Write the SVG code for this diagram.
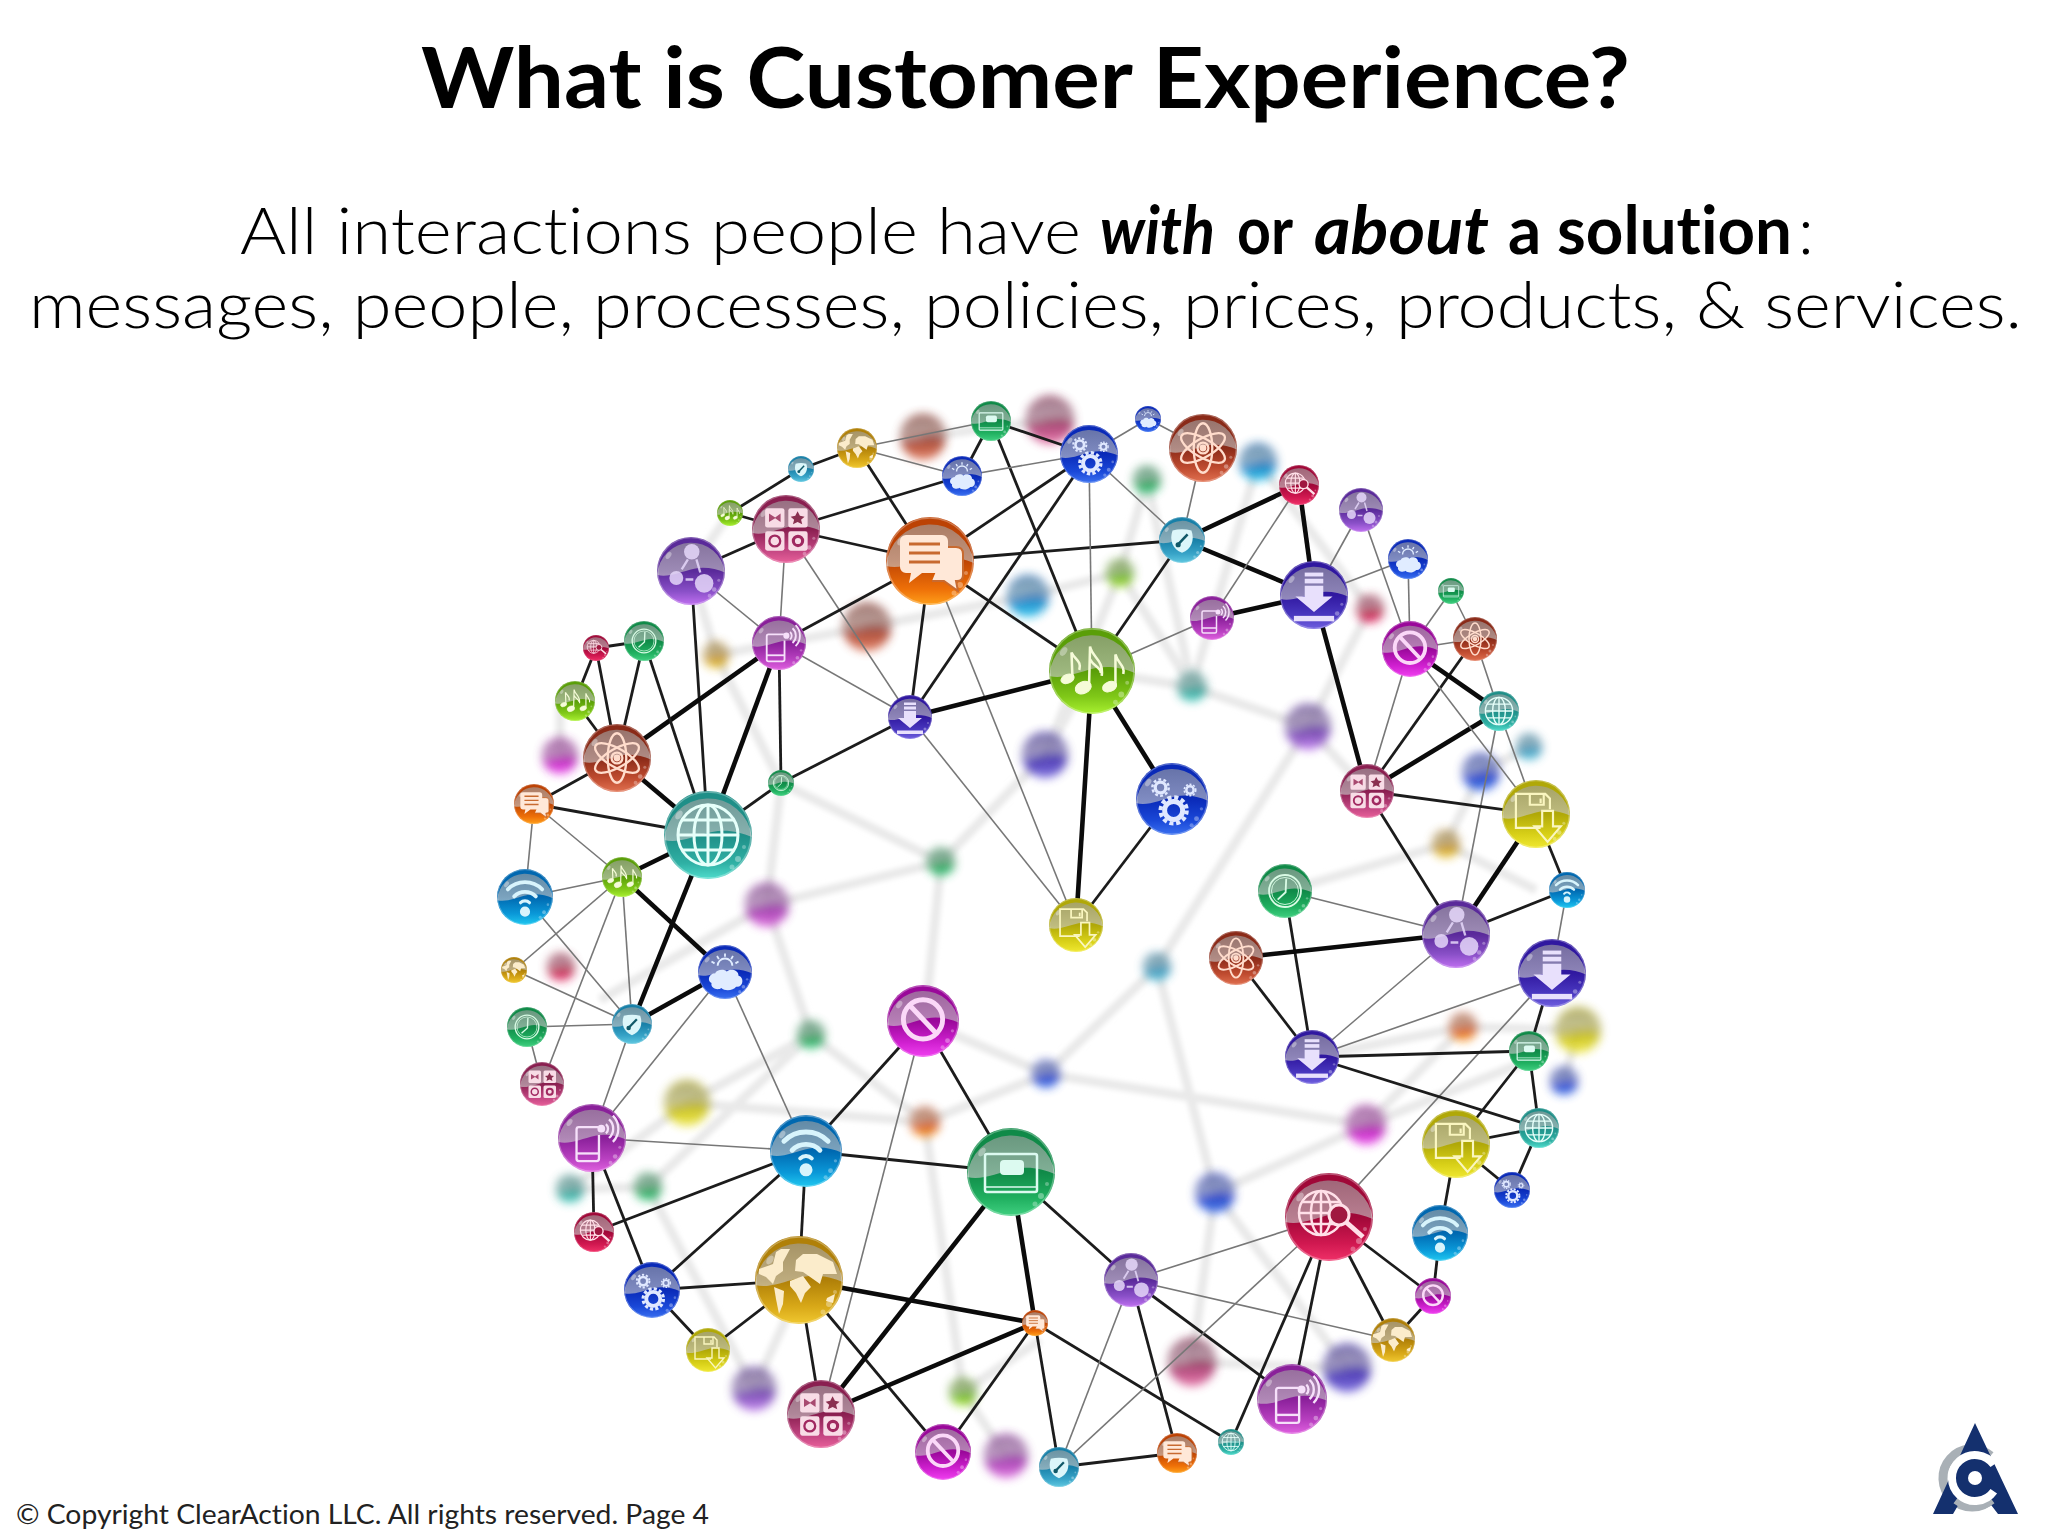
<svg xmlns="http://www.w3.org/2000/svg" width="2048" height="1536" viewBox="0 0 2048 1536">
<style>
text{font-variant-ligatures:none}
.ttl{font-family:"Lato","Liberation Sans",sans-serif;font-weight:700;font-size:84px;fill:#000}
.sub{font-family:"Lato","Liberation Sans",sans-serif;font-weight:300;font-size:66px;fill:#000}
.em{font-weight:700}
.it{font-style:italic}
.foot{font-family:"Lato","Liberation Sans",sans-serif;font-size:26px;fill:#222}
.t{stroke:#777;stroke-width:1.6}
.m{stroke:#1c1c1c;stroke-width:2.8}
.k{stroke:#0b0b0b;stroke-width:4.6}
.gh{stroke:#e9e9e9;stroke-width:9;fill:none}
.rim{fill:none;stroke:#fff;stroke-opacity:.3;stroke-width:1.5}
</style>
<defs>
<filter id="bl" x="-20%" y="-20%" width="140%" height="140%"><feGaussianBlur stdDeviation="5"/></filter>
<filter id="bl2" x="-5%" y="-5%" width="110%" height="110%"><feGaussianBlur stdDeviation="2.5"/></filter>
<linearGradient id="capg" gradientUnits="userSpaceOnUse" x1="0" y1="-44" x2="0" y2="6"><stop offset="0" stop-color="#999" stop-opacity=".62"/><stop offset="1" stop-color="#ccc" stop-opacity=".62"/></linearGradient>
<linearGradient id="teal" x1="0" y1="0" x2="0" y2="1"><stop offset=".5" stop-color="#1f8f88"/><stop offset=".82" stop-color="#2fb0a4"/><stop offset="1" stop-color="#4fdccc"/></linearGradient>
<linearGradient id="orange" x1="0" y1="0" x2="0" y2="1"><stop offset=".48" stop-color="#bc4204"/><stop offset=".82" stop-color="#ee7008"/><stop offset="1" stop-color="#ffa01a"/></linearGradient>
<linearGradient id="purple" x1="0" y1="0" x2="0" y2="1"><stop offset=".5" stop-color="#5a2a9a"/><stop offset=".8" stop-color="#8a50c8"/><stop offset="1" stop-color="#c070f0"/></linearGradient>
<linearGradient id="pink" x1="0" y1="0" x2="0" y2="1"><stop offset=".5" stop-color="#8a1f50"/><stop offset=".8" stop-color="#c04480"/><stop offset="1" stop-color="#e8609a"/></linearGradient>
<linearGradient id="magenta" x1="0" y1="0" x2="0" y2="1"><stop offset=".5" stop-color="#9a089a"/><stop offset=".8" stop-color="#d020d0"/><stop offset="1" stop-color="#f040f0"/></linearGradient>
<linearGradient id="emerald" x1="0" y1="0" x2="0" y2="1"><stop offset=".5" stop-color="#108a48"/><stop offset=".8" stop-color="#20b060"/><stop offset="1" stop-color="#40d080"/></linearGradient>
<linearGradient id="lime" x1="0" y1="0" x2="0" y2="1"><stop offset=".5" stop-color="#5a9e08"/><stop offset=".8" stop-color="#80c818"/><stop offset="1" stop-color="#a8f030"/></linearGradient>
<linearGradient id="red" x1="0" y1="0" x2="0" y2="1"><stop offset=".5" stop-color="#8a2a18"/><stop offset=".8" stop-color="#c04c30"/><stop offset="1" stop-color="#e07050"/></linearGradient>
<linearGradient id="blue" x1="0" y1="0" x2="0" y2="1"><stop offset=".5" stop-color="#0a2ab8"/><stop offset=".8" stop-color="#1a48d8"/><stop offset="1" stop-color="#3a70f0"/></linearGradient>
<linearGradient id="cyan" x1="0" y1="0" x2="0" y2="1"><stop offset=".5" stop-color="#0068b0"/><stop offset=".8" stop-color="#0a98d8"/><stop offset="1" stop-color="#20c8f0"/></linearGradient>
<linearGradient id="steel" x1="0" y1="0" x2="0" y2="1"><stop offset=".5" stop-color="#1880a8"/><stop offset=".8" stop-color="#38a4c8"/><stop offset="1" stop-color="#60c8e0"/></linearGradient>
<linearGradient id="gold" x1="0" y1="0" x2="0" y2="1"><stop offset=".5" stop-color="#b08008"/><stop offset=".8" stop-color="#d8a818"/><stop offset="1" stop-color="#f0c830"/></linearGradient>
<linearGradient id="yellow" x1="0" y1="0" x2="0" y2="1"><stop offset=".5" stop-color="#b0a808"/><stop offset=".8" stop-color="#d8d018"/><stop offset="1" stop-color="#f0e830"/></linearGradient>
<linearGradient id="crimson" x1="0" y1="0" x2="0" y2="1"><stop offset=".5" stop-color="#a00838"/><stop offset=".8" stop-color="#d01850"/><stop offset="1" stop-color="#f03068"/></linearGradient>
<linearGradient id="indigo" x1="0" y1="0" x2="0" y2="1"><stop offset=".5" stop-color="#3018a0"/><stop offset=".8" stop-color="#4a38c0"/><stop offset="1" stop-color="#7060e0"/></linearGradient>
<linearGradient id="plum" x1="0" y1="0" x2="0" y2="1"><stop offset=".5" stop-color="#8a209a"/><stop offset=".8" stop-color="#b840c0"/><stop offset="1" stop-color="#e060e0"/></linearGradient>

<path id="cap" d="M-43.700 5C-30 9-14 1 4-3 18-6 32-3 43.900 2A44 44 0 0 0-43.700 5z" fill="url(#capg)"/>
<g id="gloss"><use href="#cap"/><circle class="rim" r="43"/><ellipse cx="-29" cy="-20" rx="3" ry="5" fill="#fff" opacity=".35" transform="rotate(35 -29 -20)"/><circle cx="30" cy="24" r="3" fill="#fff" opacity=".35"/><circle cx="24" cy="32" r="2.500" fill="#fff" opacity=".3"/><circle cx="36" cy="12" r="2" fill="#fff" opacity=".3"/></g>

<g id="i-globe" fill="none" stroke="#e6fffa" stroke-width="3"><circle r="30"/><ellipse rx="14" ry="30"/><path d="M-30 0H30M-26-15H26M-26 15H26M0-30V30"/></g>
<g id="i-chat"><path d="M16-14H26c5 0 7 3 7 7V14c0 4-2 6-6 6h-1l2 10-14-10H2" fill="#ffe8d8" stroke="#c86a30" stroke-width="2"/><path d="M-24-26H12a6 6 0 0 1 6 6V6a6 6 0 0 1-6 6H-8l-13 10 2-10h-5a6 6 0 0 1-6-6V-20a6 6 0 0 1 6-6z" fill="#ffe8d8"/><path d="M-21-17H10M-21-8H10M-21 1H10" stroke="#c86a30" stroke-width="3"/></g>
<g id="i-share" fill="#e6d8fa" opacity=".85"><circle cx="1" cy="-25" r="10"/><circle cx="-19" cy="9" r="9"/><circle cx="17" cy="16" r="12"/><path d="M-4-15-12-2M7-15 12 2M-7 11H3" stroke="#e6d8fa" stroke-width="3" fill="none"/></g>
<g id="i-apps"><rect x="-27" y="-27" width="25" height="25" rx="3" fill="#f8dce6"/><rect x="3" y="-27" width="25" height="25" rx="3" fill="#f8dce6"/><rect x="-27" y="3" width="25" height="25" rx="3" fill="#f8dce6"/><rect x="3" y="3" width="25" height="25" rx="3" fill="#f8dce6"/><path d="M-22-20-14-15-7-20V-9L-14-14-22-9z" fill="#a84a70"/><path d="M15-23 18-17 24-16 19.500-12 21-6 15-9 9-6 10.500-12 6-16 12-17z" fill="#8a3050"/><circle cx="-14.500" cy="15.500" r="7" fill="none" stroke="#a02860" stroke-width="3"/><circle cx="15.500" cy="15.500" r="6" fill="none" stroke="#a02860" stroke-width="4"/></g>
<g id="i-phone" fill="none" stroke="#f6e0fa" stroke-width="3"><path d="M8-14H-17a3 3 0 0 0-3 3v38a3 3 0 0 0 3 3H6a3 3 0 0 0 3-3V-4"/><path d="M-20 20H9"/><circle cx="12" cy="-12" r="3.500" fill="#f6e0fa"/><path d="M18-18a8 8 0 0 1 0 12M22-24a16 16 0 0 1 0 24M27-29a24 24 0 0 1 0 34"/></g>
<g id="i-atom" fill="none" stroke="#ffdccc" stroke-width="3"><ellipse rx="12" ry="32"/><ellipse rx="12" ry="32" transform="rotate(60)"/><ellipse rx="12" ry="32" transform="rotate(120)"/><circle r="7"/><circle r="3" fill="#ffdccc"/></g>
<g id="i-music" fill="#f5fbd8" stroke="#f5fbd8"><ellipse cx="-25" cy="8" rx="7" ry="4.500" transform="rotate(-22 -25 8)"/><ellipse cx="-9" cy="17" rx="8.500" ry="6" transform="rotate(-22 -9 17)"/><ellipse cx="18" cy="16" rx="7.500" ry="5" transform="rotate(-22 18 16)"/><path d="M-20 7-21-19C-18-12-10-10-13-1M-3 15-2-25C0-14 12-12 10 5M-2-12C2-4 9-4 9 2M24 14 24-17C26-8 34-6 32 3" fill="none" stroke-width="2.600"/></g>
<g id="i-gears" fill="none" stroke="#e0e8ff"><circle cx="2" cy="14" r="11" stroke-width="6"/><circle cx="2" cy="14" r="16" stroke-width="5" stroke-dasharray="5 3.400"/><circle cx="-14" cy="-14" r="6.500" stroke-width="4"/><circle cx="-14" cy="-14" r="10" stroke-width="3" stroke-dasharray="3.500 2.800"/><circle cx="22" cy="-11" r="4.500" stroke-width="3"/><circle cx="22" cy="-11" r="7" stroke-width="2" stroke-dasharray="2.500 2"/></g>
<g id="i-down" fill="#e8e0fc"><rect x="-12" y="-29" width="24" height="5"/><rect x="-12" y="-21" width="24" height="6"/><path d="M-12-12H12V2H24L0 22-24 2H-12z"/><rect x="-26" y="27" width="52" height="7"/></g>
<g id="i-block" fill="none" stroke="#fbd8f8" stroke-width="6"><circle cy="-2" r="24"/><path d="M-16-19 16 15"/></g>
<g id="i-wifi" fill="none" stroke="#d8f4fc" stroke-width="6" stroke-linecap="round"><path d="M-27-12A38 38 0 0 1 27-12"/><path d="M-17-1A24 24 0 0 1 17-1"/><path d="M-7 9A10 10 0 0 1 7 9" stroke-width="5"/><circle cy="23" r="5" fill="#d8f4fc"/></g>
<g id="i-cloud"><path d="M-16 2C-26 2-30 14-22 18-24 28-10 30-6 26 0 32 14 30 18 24 30 26 32 8 22 6 22-4 8-6 3-1-2-6-14-4-16 2z" fill="#e0ecff"/><path d="M-12-10A12 12 0 0 1 12-10" fill="none" stroke="#e0ecff" stroke-width="3"/><path d="M0-30V-25M-13-26-10-21M13-26 10-21M-22-17-17-14M22-17 17-14" stroke="#e0ecff" stroke-width="3"/></g>
<g id="i-gauge" transform="scale(.82)"><path d="M-22-22C-8-26 8-26 22-22 30 0 22 22 0 30-22 22-30 0-22-22z" fill="#dcf6fa"/><path d="M-9 10 13-13" stroke="#105868" stroke-width="6"/><circle cx="-9" cy="11" r="6" fill="#105868"/></g>
<g id="i-world" fill="#fbeccb"><path d="M-40-11-26-16-23-28-18-31-9-31-16-18-16-9-23-4-26 4-33-3-40-6z"/><path d="M-25 7-15 11-16 24-20 34-23 19z"/><path d="M-3-20 4-26 18-26 34-18 38-6 24-6 21 4 14-1 4-8-4-9z"/><path d="M-9 1 4-4 12 7 6 13 2 23-3 13-9 6z"/><path d="M28 18 36 14 34 23 27 21z"/></g>
<g id="i-clock" fill="none" stroke="#d8fae4" stroke-width="3"><circle r="26"/><circle r="22" stroke-width="1.500"/><path d="M2-20 1 2-12 14"/></g>
<g id="i-laptop"><rect x="-26" y="-18" width="52" height="38" rx="2" fill="none" stroke="#dcfaf0" stroke-width="2.500"/><path d="M-26 15H26" stroke="#dcfaf0" stroke-width="1.500"/><rect x="-11" y="-12" width="24" height="15" rx="4" fill="#dcfaf0"/></g>
<g id="i-floppy" fill="none" stroke="#faf6c0" stroke-width="2.800"><path d="M6 18H-26V-26H12L18-20V-6"/><path d="M-8-26V-12H10V-26"/><path d="M6-14V-20"/><path d="M8-4H22V16H32L15 36-2 16H8z"/></g>
<g id="i-search"><g fill="none" stroke="#ffe0e8" stroke-width="2.500"><circle cx="-8" cy="-4" r="22"/><ellipse cx="-8" cy="-4" rx="10" ry="22"/><path d="M-30-4H14M-26-15H10M-26 7H10M-8-26V18"/></g><circle cx="10" cy="-2" r="10" fill="#a01840" stroke="#ffe0e8" stroke-width="3"/><path d="M17 5 34 20" stroke="#ffe0e8" stroke-width="5"/></g>
</defs>

<rect width="2048" height="1536" fill="#fff"/>

<text class="ttl" x="421" y="108" textLength="1209" lengthAdjust="spacingAndGlyphs">What is Customer Experience?</text>
<text class="sub" x="240" y="254" textLength="841" lengthAdjust="spacingAndGlyphs">All interactions people have</text>
<text class="sub em it" x="1100" y="254" textLength="115" lengthAdjust="spacingAndGlyphs">with</text>
<text class="sub em" x="1237" y="254" textLength="56" lengthAdjust="spacingAndGlyphs">or</text>
<text class="sub em it" x="1314" y="254" textLength="175" lengthAdjust="spacingAndGlyphs">about</text>
<text class="sub em" x="1508" y="254" textLength="284" lengthAdjust="spacingAndGlyphs">a solution</text>
<text class="sub" x="1798" y="254">:</text>
<text class="sub" x="29" y="328" textLength="1993" lengthAdjust="spacingAndGlyphs">messages, people, processes, policies, prices, products, &amp; services.</text>
<text class="foot" x="16" y="1524" textLength="693" lengthAdjust="spacingAndGlyphs">© Copyright ClearAction LLC. All rights reserved. Page 4</text>

<g id="background-network">
<g filter="url(#bl2)" class="gh">
<path d="M941 862 767 905M941 862 781 783M941 862 1045 755M941 862 927 1000 923 1021M1157 967 1308 727M1157 967 1046 1074M1157 967 1215 1193M1046 1074 1366 1125M1366 1125 1215 1193M1366 1125 1530 1060M1215 1193 1192 1362M1215 1193 1347 1368M1192 1362 1347 1368M811 1035 767 905M811 1035 687 1103M811 1035 925 1122M923 1021 1046 1074M1046 1074 925 1122M687 1103 925 1122M648 1187 811 1035M925 1122 963 1392M648 1187 754 1389M754 1389 790 1310M963 1392 1006 1456M963 1392 1040 1340M1192 687 1308 727M1192 687 1092 671M1308 727 1370 609M1308 727 1367 791M1446 844 1285 891M1446 844 1481 772M1481 772 1529 747M1536 890 1446 844M716 655 781 783M716 655 691 571M781 783 767 905M730 513 690 570M767 905 600 1000M560 756 560 700M570 1189 648 1187M687 1103 570 1189M1147 480 1192 687M1120 573 1028 596M1028 596 867 627M867 627 716 655M1147 480 1120 573M1258 462 1192 687M1192 687 1120 573M1045 755 1120 573M1045 755 1092 671M923 437 1050 420M1463 1027 1366 1125M1463 1027 1312 1057M1578 1030 1463 1027M1564 1081 1578 1030M1370 609 1258 462"/>
</g>
<g filter="url(#bl)" opacity=".85">
<g transform="translate(923 437) scale(.52)"><circle r="44" fill="url(#red)"/><use href="#cap"/></g>
<g transform="translate(1050 420) scale(.55)"><circle r="44" fill="url(#pink)"/><use href="#cap"/></g>
<g transform="translate(867 627) scale(.55)"><circle r="44" fill="url(#red)"/><use href="#cap"/></g>
<g transform="translate(1028 596) scale(.48)"><circle r="44" fill="url(#cyan)"/><use href="#cap"/></g>
<g transform="translate(716 655) scale(.3)"><circle r="44" fill="url(#gold)"/><use href="#cap"/></g>
<g transform="translate(560 756) scale(.41)"><circle r="44" fill="url(#magenta)"/><use href="#cap"/></g>
<g transform="translate(941 862) scale(.32)"><circle r="44" fill="url(#emerald)"/><use href="#cap"/></g>
<g transform="translate(767 905) scale(.5)"><circle r="44" fill="url(#plum)"/><use href="#cap"/></g>
<g transform="translate(1045 755) scale(.52)"><circle r="44" fill="url(#indigo)"/><use href="#cap"/></g>
<g transform="translate(1147 480) scale(.32)"><circle r="44" fill="url(#emerald)"/><use href="#cap"/></g>
<g transform="translate(1120 573) scale(.32)"><circle r="44" fill="url(#lime)"/><use href="#cap"/></g>
<g transform="translate(1258 462) scale(.43)"><circle r="44" fill="url(#cyan)"/><use href="#cap"/></g>
<g transform="translate(1370 609) scale(.32)"><circle r="44" fill="url(#crimson)"/><use href="#cap"/></g>
<g transform="translate(1192 687) scale(.34)"><circle r="44" fill="url(#teal)"/><use href="#cap"/></g>
<g transform="translate(1308 727) scale(.52)"><circle r="44" fill="url(#purple)"/><use href="#cap"/></g>
<g transform="translate(1529 747) scale(.3)"><circle r="44" fill="url(#steel)"/><use href="#cap"/></g>
<g transform="translate(1481 772) scale(.43)"><circle r="44" fill="url(#blue)"/><use href="#cap"/></g>
<g transform="translate(1446 844) scale(.32)"><circle r="44" fill="url(#gold)"/><use href="#cap"/></g>
<g transform="translate(1157 967) scale(.32)"><circle r="44" fill="url(#steel)"/><use href="#cap"/></g>
<g transform="translate(561 967) scale(.32)"><circle r="44" fill="url(#crimson)"/><use href="#cap"/></g>
<g transform="translate(687 1103) scale(.52)"><circle r="44" fill="url(#yellow)"/><use href="#cap"/></g>
<g transform="translate(811 1035) scale(.32)"><circle r="44" fill="url(#emerald)"/><use href="#cap"/></g>
<g transform="translate(925 1122) scale(.34)"><circle r="44" fill="url(#orange)"/><use href="#cap"/></g>
<g transform="translate(1046 1074) scale(.32)"><circle r="44" fill="url(#blue)"/><use href="#cap"/></g>
<g transform="translate(570 1189) scale(.32)"><circle r="44" fill="url(#teal)"/><use href="#cap"/></g>
<g transform="translate(648 1187) scale(.32)"><circle r="44" fill="url(#emerald)"/><use href="#cap"/></g>
<g transform="translate(754 1389) scale(.5)"><circle r="44" fill="url(#purple)"/><use href="#cap"/></g>
<g transform="translate(963 1392) scale(.32)"><circle r="44" fill="url(#lime)"/><use href="#cap"/></g>
<g transform="translate(1006 1456) scale(.5)"><circle r="44" fill="url(#plum)"/><use href="#cap"/></g>
<g transform="translate(1463 1027) scale(.32)"><circle r="44" fill="url(#orange)"/><use href="#cap"/></g>
<g transform="translate(1578 1030) scale(.52)"><circle r="44" fill="url(#yellow)"/><use href="#cap"/></g>
<g transform="translate(1564 1081) scale(.32)"><circle r="44" fill="url(#blue)"/><use href="#cap"/></g>
<g transform="translate(1366 1125) scale(.45)"><circle r="44" fill="url(#magenta)"/><use href="#cap"/></g>
<g transform="translate(1215 1193) scale(.45)"><circle r="44" fill="url(#blue)"/><use href="#cap"/></g>
<g transform="translate(1192 1362) scale(.55)"><circle r="44" fill="url(#pink)"/><use href="#cap"/></g>
<g transform="translate(1347 1368) scale(.55)"><circle r="44" fill="url(#indigo)"/><use href="#cap"/></g>
</g>
</g>

<g id="connectors" fill="none">
<line class="m" x1="801" y1="469" x2="730" y2="513"/>
<line class="m" x1="801" y1="469" x2="857" y2="448"/>
<line class="t" x1="857" y1="448" x2="991" y2="421"/>
<line class="t" x1="857" y1="448" x2="962" y2="476"/>
<line class="m" x1="857" y1="448" x2="930" y2="561"/>
<line class="m" x1="991" y1="421" x2="962" y2="476"/>
<line class="m" x1="991" y1="421" x2="1089" y2="454"/>
<line class="m" x1="991" y1="421" x2="1092" y2="671"/>
<line class="t" x1="962" y1="476" x2="1089" y2="454"/>
<line class="m" x1="786" y1="529" x2="962" y2="476"/>
<line class="m" x1="786" y1="529" x2="930" y2="561"/>
<line class="m" x1="786" y1="529" x2="691" y2="571"/>
<line class="m" x1="786" y1="529" x2="730" y2="513"/>
<line class="t" x1="786" y1="529" x2="779" y2="643"/>
<line class="t" x1="786" y1="529" x2="910" y2="717"/>
<line class="t" x1="691" y1="571" x2="779" y2="643"/>
<line class="m" x1="691" y1="571" x2="708" y2="835"/>
<line class="m" x1="930" y1="561" x2="1089" y2="454"/>
<line class="m" x1="930" y1="561" x2="1182" y2="540"/>
<line class="m" x1="930" y1="561" x2="1092" y2="671"/>
<line class="m" x1="930" y1="561" x2="779" y2="643"/>
<line class="m" x1="930" y1="561" x2="910" y2="717"/>
<line class="t" x1="930" y1="561" x2="1076" y2="925"/>
<line class="m" x1="910" y1="717" x2="1089" y2="454"/>
<line class="k" x1="910" y1="717" x2="1092" y2="671"/>
<line class="t" x1="910" y1="717" x2="779" y2="643"/>
<line class="m" x1="910" y1="717" x2="781" y2="783"/>
<line class="t" x1="910" y1="717" x2="1076" y2="925"/>
<line class="k" x1="779" y1="643" x2="617" y2="758"/>
<line class="k" x1="779" y1="643" x2="708" y2="835"/>
<line class="m" x1="779" y1="643" x2="781" y2="783"/>
<line class="m" x1="781" y1="783" x2="708" y2="835"/>
<line class="m" x1="596" y1="648" x2="644" y2="641"/>
<line class="m" x1="596" y1="648" x2="575" y2="701"/>
<line class="m" x1="596" y1="648" x2="617" y2="758"/>
<line class="m" x1="644" y1="641" x2="617" y2="758"/>
<line class="m" x1="644" y1="641" x2="708" y2="835"/>
<line class="m" x1="575" y1="701" x2="617" y2="758"/>
<line class="k" x1="617" y1="758" x2="708" y2="835"/>
<line class="m" x1="617" y1="758" x2="534" y2="804"/>
<line class="m" x1="534" y1="804" x2="708" y2="835"/>
<line class="t" x1="534" y1="804" x2="622" y2="877"/>
<line class="t" x1="534" y1="804" x2="525" y2="897"/>
<line class="k" x1="622" y1="877" x2="708" y2="835"/>
<line class="t" x1="525" y1="897" x2="622" y2="877"/>
<line class="t" x1="622" y1="877" x2="514" y2="970"/>
<line class="t" x1="622" y1="877" x2="542" y2="1084"/>
<line class="t" x1="622" y1="877" x2="632" y2="1024"/>
<line class="k" x1="622" y1="877" x2="725" y2="972"/>
<line class="k" x1="708" y1="835" x2="632" y2="1024"/>
<line class="t" x1="525" y1="897" x2="632" y2="1024"/>
<line class="k" x1="632" y1="1024" x2="725" y2="972"/>
<line class="t" x1="514" y1="970" x2="632" y2="1024"/>
<line class="t" x1="527" y1="1027" x2="632" y2="1024"/>
<line class="t" x1="527" y1="1027" x2="542" y2="1084"/>
<line class="t" x1="632" y1="1024" x2="592" y2="1138"/>
<line class="t" x1="725" y1="972" x2="592" y2="1138"/>
<line class="t" x1="725" y1="972" x2="806" y2="1151"/>
<line class="t" x1="592" y1="1138" x2="806" y2="1151"/>
<line class="m" x1="592" y1="1138" x2="594" y2="1232"/>
<line class="m" x1="592" y1="1138" x2="652" y2="1290"/>
<line class="m" x1="594" y1="1232" x2="806" y2="1151"/>
<line class="m" x1="652" y1="1290" x2="806" y2="1151"/>
<line class="m" x1="806" y1="1151" x2="923" y2="1021"/>
<line class="m" x1="806" y1="1151" x2="1011" y2="1172"/>
<line class="m" x1="806" y1="1151" x2="799" y2="1280"/>
<line class="m" x1="923" y1="1021" x2="1011" y2="1172"/>
<line class="t" x1="923" y1="1021" x2="821" y2="1414"/>
<line class="m" x1="652" y1="1290" x2="799" y2="1280"/>
<line class="m" x1="652" y1="1290" x2="708" y2="1350"/>
<line class="m" x1="708" y1="1350" x2="799" y2="1280"/>
<line class="m" x1="799" y1="1280" x2="821" y2="1414"/>
<line class="k" x1="799" y1="1280" x2="1035" y2="1323"/>
<line class="m" x1="799" y1="1280" x2="943" y2="1452"/>
<line class="k" x1="821" y1="1414" x2="1035" y2="1323"/>
<line class="k" x1="821" y1="1414" x2="1011" y2="1172"/>
<line class="k" x1="1011" y1="1172" x2="1035" y2="1323"/>
<line class="m" x1="1035" y1="1323" x2="943" y2="1452"/>
<line class="m" x1="1035" y1="1323" x2="1059" y2="1467"/>
<line class="m" x1="1035" y1="1323" x2="1231" y2="1442"/>
<line class="m" x1="1011" y1="1172" x2="1131" y2="1280"/>
<line class="t" x1="1131" y1="1280" x2="1329" y2="1217"/>
<line class="t" x1="1131" y1="1280" x2="1393" y2="1340"/>
<line class="m" x1="1131" y1="1280" x2="1292" y2="1399"/>
<line class="m" x1="1131" y1="1280" x2="1177" y2="1453"/>
<line class="t" x1="1131" y1="1280" x2="1059" y2="1467"/>
<line class="t" x1="1329" y1="1217" x2="1059" y2="1467"/>
<line class="m" x1="1329" y1="1217" x2="1231" y2="1442"/>
<line class="m" x1="1329" y1="1217" x2="1292" y2="1399"/>
<line class="m" x1="1329" y1="1217" x2="1393" y2="1340"/>
<line class="m" x1="1329" y1="1217" x2="1433" y2="1296"/>
<line class="t" x1="1329" y1="1217" x2="1552" y2="973"/>
<line class="m" x1="1059" y1="1467" x2="1177" y2="1453"/>
<line class="m" x1="1440" y1="1233" x2="1433" y2="1296"/>
<line class="m" x1="1440" y1="1233" x2="1456" y2="1144"/>
<line class="m" x1="1433" y1="1296" x2="1393" y2="1340"/>
<line class="m" x1="1456" y1="1144" x2="1512" y2="1190"/>
<line class="m" x1="1456" y1="1144" x2="1539" y2="1128"/>
<line class="m" x1="1456" y1="1144" x2="1529" y2="1051"/>
<line class="m" x1="1539" y1="1128" x2="1512" y2="1190"/>
<line class="m" x1="1539" y1="1128" x2="1529" y2="1051"/>
<line class="m" x1="1539" y1="1128" x2="1312" y2="1057"/>
<line class="m" x1="1312" y1="1057" x2="1529" y2="1051"/>
<line class="t" x1="1312" y1="1057" x2="1552" y2="973"/>
<line class="m" x1="1312" y1="1057" x2="1236" y2="958"/>
<line class="m" x1="1312" y1="1057" x2="1285" y2="891"/>
<line class="t" x1="1312" y1="1057" x2="1456" y2="934"/>
<line class="m" x1="1529" y1="1051" x2="1552" y2="973"/>
<line class="k" x1="1236" y1="958" x2="1456" y2="934"/>
<line class="t" x1="1285" y1="891" x2="1456" y2="934"/>
<line class="m" x1="1456" y1="934" x2="1367" y2="791"/>
<line class="t" x1="1456" y1="934" x2="1499" y2="711"/>
<line class="k" x1="1456" y1="934" x2="1536" y2="814"/>
<line class="m" x1="1456" y1="934" x2="1567" y2="890"/>
<line class="m" x1="1567" y1="890" x2="1536" y2="814"/>
<line class="t" x1="1567" y1="890" x2="1552" y2="973"/>
<line class="m" x1="1367" y1="791" x2="1536" y2="814"/>
<line class="k" x1="1367" y1="791" x2="1499" y2="711"/>
<line class="m" x1="1367" y1="791" x2="1475" y2="639"/>
<line class="t" x1="1367" y1="791" x2="1410" y2="649"/>
<line class="k" x1="1367" y1="791" x2="1314" y2="595"/>
<line class="k" x1="1410" y1="649" x2="1499" y2="711"/>
<line class="t" x1="1410" y1="649" x2="1536" y2="814"/>
<line class="t" x1="1410" y1="649" x2="1475" y2="639"/>
<line class="t" x1="1410" y1="649" x2="1451" y2="591"/>
<line class="t" x1="1410" y1="649" x2="1361" y2="510"/>
<line class="t" x1="1410" y1="649" x2="1408" y2="559"/>
<line class="t" x1="1475" y1="639" x2="1451" y2="591"/>
<line class="t" x1="1475" y1="639" x2="1499" y2="711"/>
<line class="t" x1="1499" y1="711" x2="1536" y2="814"/>
<line class="t" x1="1314" y1="595" x2="1408" y2="559"/>
<line class="t" x1="1314" y1="595" x2="1361" y2="510"/>
<line class="k" x1="1314" y1="595" x2="1299" y2="485"/>
<line class="k" x1="1314" y1="595" x2="1182" y2="540"/>
<line class="k" x1="1314" y1="595" x2="1212" y2="618"/>
<line class="k" x1="1299" y1="485" x2="1182" y2="540"/>
<line class="t" x1="1299" y1="485" x2="1212" y2="618"/>
<line class="t" x1="1182" y1="540" x2="1203" y2="448"/>
<line class="t" x1="1182" y1="540" x2="1089" y2="454"/>
<line class="m" x1="1182" y1="540" x2="1092" y2="671"/>
<line class="t" x1="1212" y1="618" x2="1092" y2="671"/>
<line class="t" x1="1089" y1="454" x2="1092" y2="671"/>
<line class="t" x1="1089" y1="454" x2="1148" y2="419"/>
<line class="t" x1="1148" y1="419" x2="1203" y2="448"/>
<line class="k" x1="1092" y1="671" x2="1172" y2="799"/>
<line class="k" x1="1092" y1="671" x2="1076" y2="925"/>
<line class="m" x1="1172" y1="799" x2="1076" y2="925"/>
</g>

<g id="n1" transform="translate(991 421) scale(.455)"><circle r="44" fill="url(#emerald)"/><use href="#gloss"/><use href="#i-laptop"/></g>
<g id="n2" transform="translate(857 448) scale(.455)"><circle r="44" fill="url(#gold)"/><use href="#gloss"/><use href="#i-world"/></g>
<g id="n3" transform="translate(801 469) scale(.295)"><circle r="44" fill="url(#steel)"/><use href="#gloss"/><use href="#i-gauge"/></g>
<g id="n4" transform="translate(962 476) scale(.455)"><circle r="44" fill="url(#blue)"/><use href="#gloss"/><use href="#i-cloud"/></g>
<g id="n5" transform="translate(730 513) scale(.295)"><circle r="44" fill="url(#lime)"/><use href="#gloss"/><use href="#i-music"/></g>
<g id="n6" transform="translate(786 529) scale(.773)"><circle r="44" fill="url(#pink)"/><use href="#gloss"/><use href="#i-apps"/></g>
<g id="n7" transform="translate(930 561)"><circle r="44" fill="url(#orange)"/><use href="#gloss"/><use href="#i-chat"/></g>
<g id="n8" transform="translate(691 571) scale(.773)"><circle r="44" fill="url(#purple)"/><use href="#gloss"/><use href="#i-share"/></g>
<g id="n9" transform="translate(779 643) scale(.614)"><circle r="44" fill="url(#plum)"/><use href="#gloss"/><use href="#i-phone"/></g>
<g id="n10" transform="translate(596 648) scale(.295)"><circle r="44" fill="url(#crimson)"/><use href="#gloss"/><use href="#i-search"/></g>
<g id="n11" transform="translate(644 641) scale(.455)"><circle r="44" fill="url(#emerald)"/><use href="#gloss"/><use href="#i-clock"/></g>
<g id="n12" transform="translate(575 701) scale(.455)"><circle r="44" fill="url(#lime)"/><use href="#gloss"/><use href="#i-music"/></g>
<g id="n13" transform="translate(617 758) scale(.773)"><circle r="44" fill="url(#red)"/><use href="#gloss"/><use href="#i-atom"/></g>
<g id="n14" transform="translate(910 717) scale(.5)"><circle r="44" fill="url(#indigo)"/><use href="#gloss"/><use href="#i-down"/></g>
<g id="n15" transform="translate(781 783) scale(.295)"><circle r="44" fill="url(#emerald)"/><use href="#gloss"/><use href="#i-clock"/></g>
<g id="n16" transform="translate(534 804) scale(.455)"><circle r="44" fill="url(#orange)"/><use href="#gloss"/><use href="#i-chat"/></g>
<g id="n17" transform="translate(708 835)"><circle r="44" fill="url(#teal)"/><use href="#gloss"/><use href="#i-globe"/></g>
<g id="n18" transform="translate(622 877) scale(.455)"><circle r="44" fill="url(#lime)"/><use href="#gloss"/><use href="#i-music"/></g>
<g id="n19" transform="translate(525 897) scale(.636)"><circle r="44" fill="url(#cyan)"/><use href="#gloss"/><use href="#i-wifi"/></g>
<g id="n20" transform="translate(1089 454) scale(.659)"><circle r="44" fill="url(#blue)"/><use href="#gloss"/><use href="#i-gears"/></g>
<g id="n21" transform="translate(1148 419) scale(.295)"><circle r="44" fill="url(#blue)"/><use href="#gloss"/><use href="#i-cloud"/></g>
<g id="n22" transform="translate(1203 448) scale(.773)"><circle r="44" fill="url(#red)"/><use href="#gloss"/><use href="#i-atom"/></g>
<g id="n23" transform="translate(1299 485) scale(.455)"><circle r="44" fill="url(#crimson)"/><use href="#gloss"/><use href="#i-search"/></g>
<g id="n24" transform="translate(1361 510) scale(.5)"><circle r="44" fill="url(#purple)"/><use href="#gloss"/><use href="#i-share"/></g>
<g id="n25" transform="translate(1408 559) scale(.455)"><circle r="44" fill="url(#blue)"/><use href="#gloss"/><use href="#i-cloud"/></g>
<g id="n26" transform="translate(1451 591) scale(.295)"><circle r="44" fill="url(#emerald)"/><use href="#gloss"/><use href="#i-laptop"/></g>
<g id="n27" transform="translate(1475 639) scale(.5)"><circle r="44" fill="url(#red)"/><use href="#gloss"/><use href="#i-atom"/></g>
<g id="n28" transform="translate(1410 649) scale(.636)"><circle r="44" fill="url(#magenta)"/><use href="#gloss"/><use href="#i-block"/></g>
<g id="n29" transform="translate(1314 595) scale(.773)"><circle r="44" fill="url(#indigo)"/><use href="#gloss"/><use href="#i-down"/></g>
<g id="n30" transform="translate(1212 618) scale(.5)"><circle r="44" fill="url(#plum)"/><use href="#gloss"/><use href="#i-phone"/></g>
<g id="n31" transform="translate(1182 540) scale(.523)"><circle r="44" fill="url(#steel)"/><use href="#gloss"/><use href="#i-gauge"/></g>
<g id="n32" transform="translate(1092 671) scale(.977)"><circle r="44" fill="url(#lime)"/><use href="#gloss"/><use href="#i-music"/></g>
<g id="n33" transform="translate(1172 799) scale(.818)"><circle r="44" fill="url(#blue)"/><use href="#gloss"/><use href="#i-gears"/></g>
<g id="n34" transform="translate(1076 925) scale(.614)"><circle r="44" fill="url(#yellow)"/><use href="#gloss"/><use href="#i-floppy"/></g>
<g id="n35" transform="translate(1499 711) scale(.455)"><circle r="44" fill="url(#teal)"/><use href="#gloss"/><use href="#i-globe"/></g>
<g id="n36" transform="translate(1367 791) scale(.614)"><circle r="44" fill="url(#pink)"/><use href="#gloss"/><use href="#i-apps"/></g>
<g id="n37" transform="translate(1536 814) scale(.773)"><circle r="44" fill="url(#yellow)"/><use href="#gloss"/><use href="#i-floppy"/></g>
<g id="n38" transform="translate(1285 891) scale(.614)"><circle r="44" fill="url(#emerald)"/><use href="#gloss"/><use href="#i-clock"/></g>
<g id="n39" transform="translate(1456 934) scale(.773)"><circle r="44" fill="url(#purple)"/><use href="#gloss"/><use href="#i-share"/></g>
<g id="n40" transform="translate(1567 890) scale(.409)"><circle r="44" fill="url(#cyan)"/><use href="#gloss"/><use href="#i-wifi"/></g>
<g id="n41" transform="translate(1236 958) scale(.614)"><circle r="44" fill="url(#red)"/><use href="#gloss"/><use href="#i-atom"/></g>
<g id="n42" transform="translate(1552 973) scale(.773)"><circle r="44" fill="url(#indigo)"/><use href="#gloss"/><use href="#i-down"/></g>
<g id="n43" transform="translate(1312 1057) scale(.614)"><circle r="44" fill="url(#indigo)"/><use href="#gloss"/><use href="#i-down"/></g>
<g id="n44" transform="translate(1529 1051) scale(.455)"><circle r="44" fill="url(#emerald)"/><use href="#gloss"/><use href="#i-laptop"/></g>
<g id="n45" transform="translate(1456 1144) scale(.773)"><circle r="44" fill="url(#yellow)"/><use href="#gloss"/><use href="#i-floppy"/></g>
<g id="n46" transform="translate(1539 1128) scale(.455)"><circle r="44" fill="url(#teal)"/><use href="#gloss"/><use href="#i-globe"/></g>
<g id="n47" transform="translate(1512 1190) scale(.409)"><circle r="44" fill="url(#blue)"/><use href="#gloss"/><use href="#i-gears"/></g>
<g id="n48" transform="translate(1329 1217)"><circle r="44" fill="url(#crimson)"/><use href="#gloss"/><use href="#i-search"/></g>
<g id="n49" transform="translate(1440 1233) scale(.636)"><circle r="44" fill="url(#cyan)"/><use href="#gloss"/><use href="#i-wifi"/></g>
<g id="n50" transform="translate(1433 1296) scale(.409)"><circle r="44" fill="url(#magenta)"/><use href="#gloss"/><use href="#i-block"/></g>
<g id="n51" transform="translate(1393 1340) scale(.5)"><circle r="44" fill="url(#gold)"/><use href="#gloss"/><use href="#i-world"/></g>
<g id="n52" transform="translate(1131 1280) scale(.614)"><circle r="44" fill="url(#purple)"/><use href="#gloss"/><use href="#i-share"/></g>
<g id="n53" transform="translate(1292 1399) scale(.795)"><circle r="44" fill="url(#plum)"/><use href="#gloss"/><use href="#i-phone"/></g>
<g id="n54" transform="translate(1231 1442) scale(.295)"><circle r="44" fill="url(#teal)"/><use href="#gloss"/><use href="#i-globe"/></g>
<g id="n55" transform="translate(1177 1453) scale(.455)"><circle r="44" fill="url(#orange)"/><use href="#gloss"/><use href="#i-chat"/></g>
<g id="n56" transform="translate(1059 1467) scale(.455)"><circle r="44" fill="url(#steel)"/><use href="#gloss"/><use href="#i-gauge"/></g>
<g id="n57" transform="translate(514 970) scale(.295)"><circle r="44" fill="url(#gold)"/><use href="#gloss"/><use href="#i-world"/></g>
<g id="n58" transform="translate(725 972) scale(.614)"><circle r="44" fill="url(#blue)"/><use href="#gloss"/><use href="#i-cloud"/></g>
<g id="n59" transform="translate(527 1027) scale(.455)"><circle r="44" fill="url(#emerald)"/><use href="#gloss"/><use href="#i-clock"/></g>
<g id="n60" transform="translate(632 1024) scale(.455)"><circle r="44" fill="url(#steel)"/><use href="#gloss"/><use href="#i-gauge"/></g>
<g id="n61" transform="translate(542 1084) scale(.5)"><circle r="44" fill="url(#pink)"/><use href="#gloss"/><use href="#i-apps"/></g>
<g id="n62" transform="translate(592 1138) scale(.773)"><circle r="44" fill="url(#plum)"/><use href="#gloss"/><use href="#i-phone"/></g>
<g id="n63" transform="translate(923 1021) scale(.818)"><circle r="44" fill="url(#magenta)"/><use href="#gloss"/><use href="#i-block"/></g>
<g id="n64" transform="translate(806 1151) scale(.818)"><circle r="44" fill="url(#cyan)"/><use href="#gloss"/><use href="#i-wifi"/></g>
<g id="n65" transform="translate(1011 1172)"><circle r="44" fill="url(#emerald)"/><use href="#gloss"/><use href="#i-laptop"/></g>
<g id="n66" transform="translate(594 1232) scale(.455)"><circle r="44" fill="url(#crimson)"/><use href="#gloss"/><use href="#i-search"/></g>
<g id="n67" transform="translate(652 1290) scale(.636)"><circle r="44" fill="url(#blue)"/><use href="#gloss"/><use href="#i-gears"/></g>
<g id="n68" transform="translate(799 1280)"><circle r="44" fill="url(#gold)"/><use href="#gloss"/><use href="#i-world"/></g>
<g id="n69" transform="translate(708 1350) scale(.5)"><circle r="44" fill="url(#yellow)"/><use href="#gloss"/><use href="#i-floppy"/></g>
<g id="n70" transform="translate(821 1414) scale(.773)"><circle r="44" fill="url(#pink)"/><use href="#gloss"/><use href="#i-apps"/></g>
<g id="n71" transform="translate(1035 1323) scale(.295)"><circle r="44" fill="url(#orange)"/><use href="#gloss"/><use href="#i-chat"/></g>
<g id="n72" transform="translate(943 1452) scale(.636)"><circle r="44" fill="url(#magenta)"/><use href="#gloss"/><use href="#i-block"/></g>

<g id="logo">
<path d="M1990.600 1455.800A29 29 0 1 0 1992.500 1498.500" fill="none" stroke="#a9b0b6" stroke-width="9"/>
<path d="M1975 1423 2018 1514H1998L1985 1497H1963L1953 1514H1933z" fill="#14306e"/>
<path d="M1956 1500A29 29 0 0 0 1992 1500" fill="none" stroke="#a9b0b6" stroke-width="8"/>
<path d="M1993.800 1464.800A23 23 0 1 0 1993.800 1491.200" fill="none" stroke="#fff" stroke-width="8"/>
<circle cx="1975" cy="1478" r="18" fill="#14306e"/>
<circle cx="1975" cy="1478" r="7" fill="#fff"/>
</g>
</svg>
